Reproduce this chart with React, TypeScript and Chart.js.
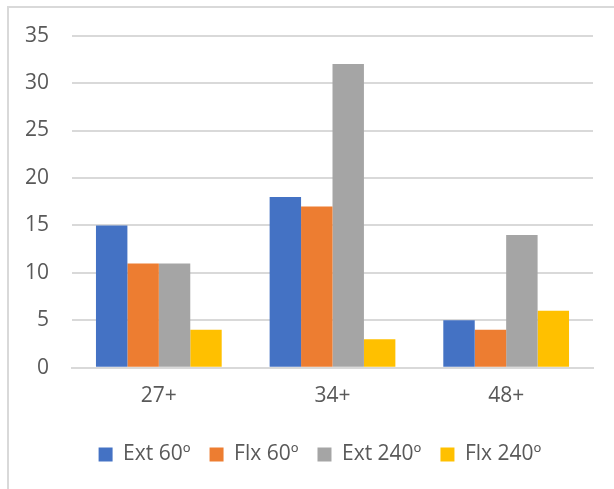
import React, { useEffect, useRef } from "react";
import { Chart, registerables } from "chart.js";

Chart.register(...registerables);

const categories = ["27+", "34+", "48+"];
const seriesNames = ["Ext 60º", "Flx 60º", "Ext 240º", "Flx 240º"];
const ext60 = [15, 18, 5];
const flx60 = [11, 17, 4];
const ext240 = [11, 32, 14];
const flx240 = [4, 3, 6];
const colors = ["#4472C4", "#ED7D31", "#A5A5A5", "#FFC000"];
const yTicks = [0, 5, 10, 15, 20, 25, 30, 35];

const FONT = "'Open Sans', 'Noto Sans', sans-serif";

const legendShift = {
  id: "legendShift",
  afterLayout(chart: any) {
    if (chart.legend) {
      chart.legend.left = 0;
      chart.legend.right = chart.width;
    }
  },
};

export default function App() {
  const ref = useRef<HTMLCanvasElement>(null);
  useEffect(() => {
    if (!ref.current) return;
    const values = [ext60, flx60, ext240, flx240];
    const chart = new Chart(ref.current, {
      type: "bar",
      data: {
        labels: categories,
        datasets: seriesNames.map((n, i) => ({
          label: n,
          data: values[i],
          backgroundColor: colors[i],
          borderWidth: 0,
          categoryPercentage: 0.724,
          barPercentage: 1,
        })),
      },
      plugins: [legendShift],
      options: {
        animation: false,
        responsive: false,
        maintainAspectRatio: false,
        layout: { padding: { top: 35, right: 47, left: 0, bottom: 14 } },
        plugins: {
          tooltip: { enabled: false },
          legend: {
            position: "bottom",
            labels: {
              boxWidth: 14,
              boxHeight: 14,
              padding: 19,
              color: "#595959",
              font: { family: FONT, size: 21 },
            },
          },
        },
        scales: {
          x: {
            grid: { display: false, drawTicks: false },
            border: { display: true, color: "#d9d9d9", width: 2 },
            ticks: {
              color: "#595959",
              padding: 16,
              font: { family: FONT, size: 21 },
            },
          },
          y: {
            min: 0,
            max: 35,
            afterBuildTicks: (s: any) => {
              s.ticks = yTicks.map((v) => ({ value: v }));
            },
            afterFit: (s: any) => {
              s.width = 72;
            },
            grid: { color: "#d9d9d9", lineWidth: 2, drawTicks: false },
            border: { display: false },
            ticks: {
              color: "#595959",
              padding: 23,
              font: { family: FONT, size: 21 },
            },
          },
        },
      },
    });
    return () => chart.destroy();
  }, []);
  return (
    <div style={{ position: "absolute", left: 0, top: 0, width: 614, height: 489, overflow: "hidden", background: "#fff" }}>
      <div
        style={{
          position: "absolute",
          left: 7,
          top: 6,
          width: 660,
          height: 520,
          borderTop: "2px solid #d9d9d9",
          borderLeft: "2px solid #d9d9d9",
        }}
      />
      <canvas ref={ref} width={640} height={489} style={{ position: "absolute", left: 0, top: 0 }} />
    </div>
  );
}
